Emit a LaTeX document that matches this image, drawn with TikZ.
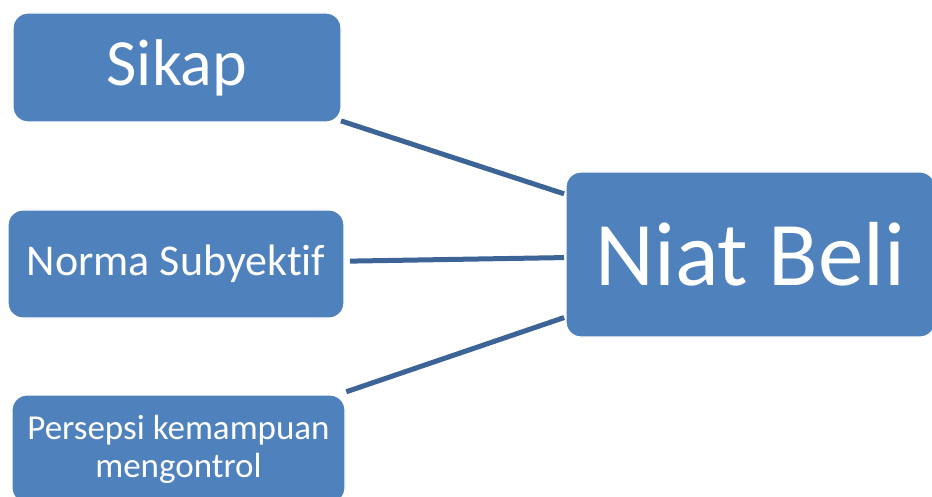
\documentclass[tikz,border=0pt]{standalone}
\usepackage{fontspec}
\setmainfont{Carlito}[Ligatures=NoCommon]
\usetikzlibrary{positioning}
\definecolor{nbfill}{HTML}{4F81BD}
\definecolor{nbline}{HTML}{3C6496}
\tikzset{
  box/.style={fill=nbfill, draw=white, line width=1.2pt, rounded corners=15pt,
    text=white, align=center, inner sep=0pt, outer sep=0pt},
  link/.style={nbline, line width=5pt, shorten >=2pt},
}
\begin{document}
\begin{tikzpicture}[x=1pt, y=-1pt]
  \useasboundingbox (0,0) rectangle (932,497);
  \node[box, minimum width=328pt, minimum height=109pt,
    font=\fontsize{66}{78}\selectfont] (sikap) at (177,67.5) {Sikap};
  \node[box, minimum width=336pt, minimum height=108pt,
    font=\fontsize{44}{50}\selectfont] (norma) at (176,264) {Norma Subyektif};
  \node[box, minimum width=333pt, minimum height=108pt,
    font=\fontsize{35}{38}\selectfont] (persepsi) at (178.5,449)
    {Persepsi kemampuan\\mengontrol};
  \node[box, minimum width=369pt, minimum height=165pt,
    font=\fontsize{91}{100}\selectfont] (niat) at (750.5,254.5) {Niat Beli};
  % connectors
  \draw[link] (sikap) -- (niat);
  \draw[link, shorten <=6pt] (norma) -- (niat);
  \draw[link, shorten <=10pt] (persepsi) -- (niat);
\end{tikzpicture}
\end{document}
